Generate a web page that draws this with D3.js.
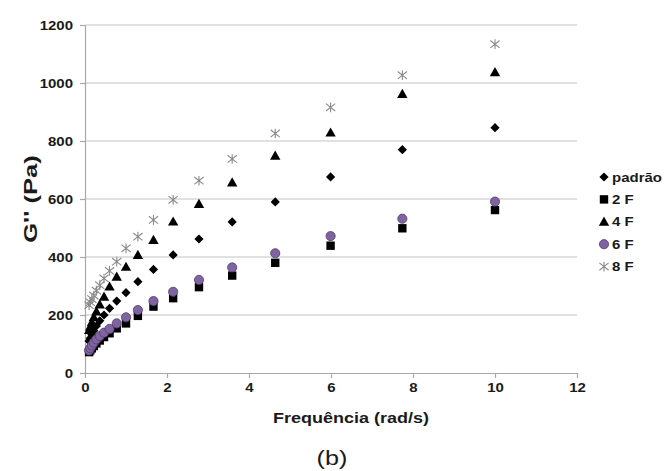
<!DOCTYPE html>
<html>
<head>
<meta charset="utf-8">
<script src="https://cdn.jsdelivr.net/npm/d3@7"></script>
<style>
  body { margin: 0; background: #fff; }
  text { font-family: "Liberation Sans", Arial, sans-serif; }
</style>
</head>
<body>
<svg id="chart" width="667" height="471"></svg>
<script>
// Loss modulus G'' versus angular frequency for five formulations
const frequencies = [0.1, 0.129, 0.167, 0.215, 0.278, 0.359, 0.464, 0.599, 0.774, 1.0,
                     1.29, 1.67, 2.15, 2.78, 3.59, 4.64, 5.99, 7.74, 10];
const padrao = [110, 120, 132, 146, 162, 180, 200, 223, 248, 277, 315, 357, 407, 462, 521, 590, 676, 770, 846];
const f2     = [72, 78, 85, 93, 102, 112, 124, 137, 154, 171, 197, 229, 258, 296, 336, 380, 439, 499, 562];
const f4     = [148, 160, 175, 192, 212, 236, 263, 298, 332, 366, 407, 459, 522, 583, 657, 749, 829, 962, 1037];
const f6     = [78, 86, 95, 105, 116, 127, 139, 152, 171, 192, 217, 248, 280, 321, 364, 413, 472, 532, 591];
const f8     = [234, 244, 255, 267, 284, 303, 326, 352, 384, 430, 470, 528, 597, 663, 738, 826, 916, 1027, 1134];
const seriesNames = ["padrão", "2 F", "4 F", "6 F", "8 F"];
const xTicks = [0, 2, 4, 6, 8, 10, 12];
const yTicks = [0, 200, 400, 600, 800, 1000, 1200];

const seriesValues = [padrao, f2, f4, f6, f8];
const markerKinds = ["diamond", "square", "triangle", "circle", "asterisk"];

const svg = d3.select("#chart");
const x = d3.scaleLinear().domain([0, 12]).range([85, 577]);
const y = d3.scaleLinear().domain([0, 1200]).range([373, 25]);
const TX = 1.2; // horizontal widening of the lettering

// horizontal gridlines
svg.append("g").selectAll("line")
  .data(yTicks.filter(d => d > 0))
  .join("line")
  .attr("x1", x(0)).attr("x2", x(12))
  .attr("y1", d => y(d)).attr("y2", d => y(d))
  .attr("stroke", "#c3c3c3").attr("stroke-width", 1.2);

// axes
const xAxis = svg.append("g")
  .attr("transform", `translate(0,${y(0)})`)
  .call(d3.axisBottom(x).tickValues(xTicks).tickSize(5).tickSizeOuter(0).tickFormat(d3.format("d")));
const yAxis = svg.append("g")
  .attr("transform", `translate(${x(0)},0)`)
  .call(d3.axisLeft(y).tickValues(yTicks).tickSize(5).tickSizeOuter(0).tickFormat(d3.format("d")));

[xAxis, yAxis].forEach(g => {
  g.select(".domain").attr("stroke", "#a8a8a8").attr("stroke-width", 1.2);
  g.selectAll(".tick line").attr("stroke", "#a8a8a8").attr("stroke-width", 1.2);
  g.selectAll(".tick text")
    .attr("fill", "#1a1a1a")
    .attr("font-size", 12.5)
    .attr("font-weight", "bold");
});
xAxis.selectAll(".tick text").attr("y", 10).attr("transform", `scale(${TX},1)`);
yAxis.selectAll(".tick text").attr("x", -12 / TX).attr("transform", `scale(${TX},1)`);

// marker shapes
function markerPath(kind) {
  const p = d3.path();
  if (kind === "diamond") {
    const r = 4.6;
    p.moveTo(0, -r); p.lineTo(r, 0); p.lineTo(0, r); p.lineTo(-r, 0); p.closePath();
  } else if (kind === "square") {
    const h = 4.2;
    p.rect(-h, -h, 2 * h, 2 * h);
  } else if (kind === "triangle") {
    p.moveTo(0, -5.2); p.lineTo(5.2, 4); p.lineTo(-5.2, 4); p.closePath();
  } else if (kind === "circle") {
    p.arc(0, 0, 4.6, 0, 2 * Math.PI);
  } else {
    const a = 4.6;
    p.moveTo(-a, -a * 0.8); p.lineTo(a, a * 0.8);
    p.moveTo(-a, a * 0.8); p.lineTo(a, -a * 0.8);
    p.moveTo(0, -a * 1.05); p.lineTo(0, a * 1.05);
  }
  return p.toString();
}
function styleMarker(sel, kind) {
  if (kind === "circle") {
    sel.attr("fill", "#8064a2").attr("stroke", "#4f3d6b").attr("stroke-width", 0.8);
  } else if (kind === "asterisk") {
    sel.attr("fill", "none").attr("stroke", "#8a8a8a").attr("stroke-width", 1.1);
  } else {
    sel.attr("fill", "#000").attr("stroke", "none");
  }
}

// data points, one group per series
seriesValues.forEach((vals, i) => {
  const kind = markerKinds[i];
  const pts = frequencies.map((f, j) => ({ f, v: vals[j] }));
  const g = svg.append("g").attr("class", "series");
  const marks = g.selectAll("path").data(pts).join("path")
    .attr("transform", d => `translate(${x(d.f)},${y(d.v)})`)
    .attr("d", markerPath(kind));
  styleMarker(marks, kind);
});

// legend
const legend = svg.append("g");
seriesNames.forEach((name, i) => {
  const ly = 177 + i * 22.4;
  const kind = markerKinds[i];
  const m = legend.append("path")
    .attr("transform", `translate(604,${ly})`)
    .attr("d", markerPath(kind));
  styleMarker(m, kind);
  legend.append("text")
    .attr("transform", `translate(612,${ly + 4.5}) scale(${TX},1)`)
    .attr("font-size", 12.5).attr("font-weight", "bold").attr("fill", "#1a1a1a")
    .text(name);
});

// axis titles
svg.append("text")
  .attr("transform", `translate(351,423) scale(${TX},1)`)
  .attr("text-anchor", "middle")
  .attr("font-size", 15).attr("font-weight", "bold").attr("fill", "#1a1a1a")
  .text("Frequência (rad/s)");
svg.append("text")
  .attr("transform", `translate(37,199) rotate(-90) scale(1.35,1)`)
  .attr("text-anchor", "middle")
  .attr("font-size", 19).attr("font-weight", "bold").attr("fill", "#1a1a1a")
  .text("G'' (Pa)");
svg.append("text")
  .attr("transform", `translate(332,465) scale(${TX},1)`)
  .attr("text-anchor", "middle")
  .attr("font-size", 21).attr("fill", "#1a1a1a")
  .text("(b)");
</script>
</body>
</html>
